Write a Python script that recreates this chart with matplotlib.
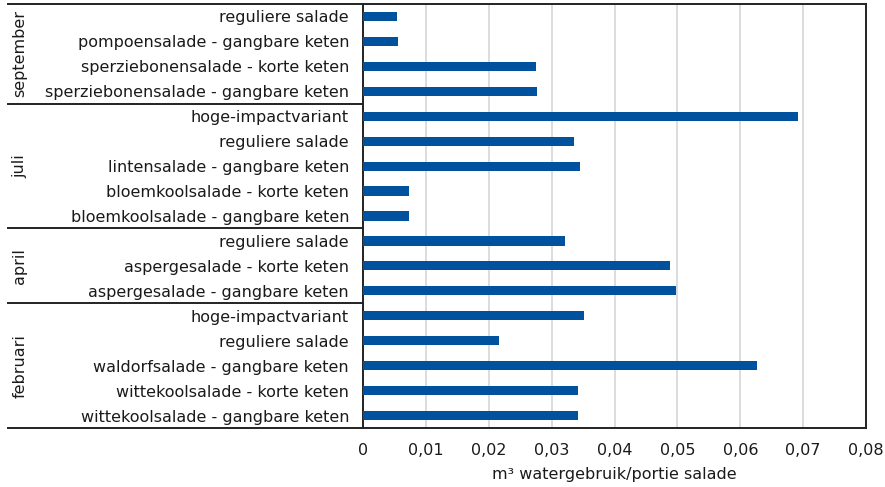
import matplotlib.pyplot as plt
import matplotlib.transforms as mtransforms
from matplotlib.lines import Line2D
from matplotlib.ticker import FuncFormatter, MultipleLocator

plt.rcParams['font.family'] = ['DejaVu Sans']

# Rows from top to bottom
months = ['september', 'juli', 'april', 'februari']
month_sizes = [4, 5, 3, 5]
labels = [
    'reguliere salade',
    'pompoensalade - gangbare keten',
    'sperziebonensalade - korte keten',
    'sperziebonensalade - gangbare keten',
    'hoge-impactvariant',
    'reguliere salade',
    'lintensalade - gangbare keten',
    'bloemkoolsalade - korte keten',
    'bloemkoolsalade - gangbare keten',
    'reguliere salade',
    'aspergesalade - korte keten',
    'aspergesalade - gangbare keten',
    'hoge-impactvariant',
    'reguliere salade',
    'waldorfsalade - gangbare keten',
    'wittekoolsalade - korte keten',
    'wittekoolsalade - gangbare keten',
]
values = [0.0054, 0.0056, 0.0275, 0.0277,
          0.0692, 0.0335, 0.0345, 0.0073, 0.0073,
          0.0321, 0.0488, 0.0498,
          0.0351, 0.0216, 0.0626, 0.0342, 0.0342]

FS = 11.5
W, H = 885, 487
fig = plt.figure(figsize=(W / 100, H / 100), dpi=100)
left, right, top, bottom = 363, 866, 4, 428
ax = fig.add_axes([left / W, 1 - bottom / H, (right - left) / W, (bottom - top) / H])

ypos = list(range(len(labels)))
ax.barh(ypos, values, height=0.37, color='#00529F', zorder=3)

ax.set_xlim(0, 0.08)
ax.set_ylim(len(labels) - 0.5, -0.5)
ax.xaxis.set_major_locator(MultipleLocator(0.01))
ax.xaxis.set_major_formatter(FuncFormatter(
    lambda v, p: '0' if abs(v) < 1e-9 else f'{v:.2f}'.replace('.', ',')))
ax.grid(axis='x', color='#d9d9d9', linewidth=1.3, zorder=0)
ax.set_yticks(ypos)
ax.set_yticklabels(labels, fontsize=FS, color='#1a1a1a')
ax.tick_params(axis='y', length=0, pad=10)
ax.tick_params(axis='x', length=0, pad=11, labelsize=FS, labelcolor='#1a1a1a')
ax.set_xlabel('m³ watergebruik/portie salade', fontsize=FS, color='#1a1a1a', labelpad=6)

for s in ax.spines.values():
    s.set_color('#222222')
    s.set_linewidth(1.4)
ax.spines['top'].set_visible(False)

# group separators and month labels
trans = mtransforms.blended_transform_factory(fig.transFigure, ax.transData)
x0 = 8 / W
fig.add_artist(Line2D([x0, right / W], [-0.5, -0.5], transform=trans,
                      color='#222222', linewidth=1.4))
start = 0
for month, n in zip(months, month_sizes):
    end = start + n
    fig.add_artist(Line2D([x0, left / W], [end - 0.5, end - 0.5], transform=trans,
                          color='#222222', linewidth=1.4))
    ax.text(20 / W, (start + end - 1) / 2, month, transform=trans, rotation=90,
            ha='center', va='center', fontsize=FS, color='#1a1a1a')
    start = end

fig.savefig('out.png', dpi=100)
